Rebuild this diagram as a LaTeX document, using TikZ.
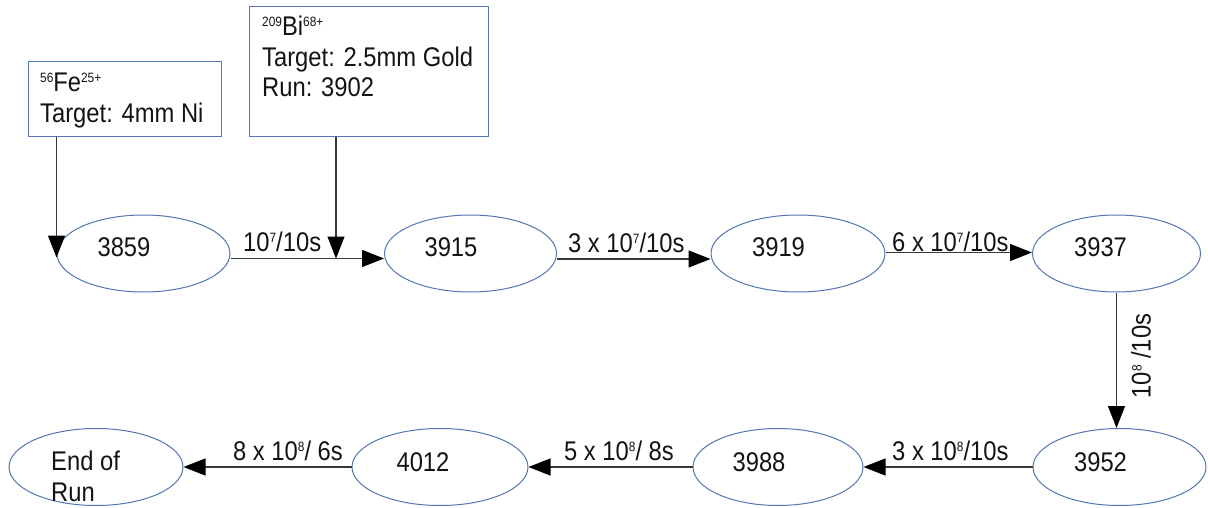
\documentclass[tikz,border=0pt]{standalone}
\usepackage{fontspec}
\setmainfont{Liberation Sans}[FakeStretch=0.88]
\usetikzlibrary{shapes.geometric,arrows.meta,calc}
\definecolor{eblue}{RGB}{84,118,178}
\definecolor{txt}{RGB}{20,20,20}
\newcommand\upx[1]{\raisebox{9pt}{\fontsize{13.5}{13.5}\selectfont #1}}
\begin{document}
\begin{tikzpicture}[x=1pt,y=-1pt,
  every node/.style={font=\fontsize{27}{30}\selectfont, text=txt, inner sep=0pt},
  ell/.style={draw=eblue, line width=1pt, ellipse, minimum width=#1, minimum height=77pt},
  box/.style={draw=eblue, line width=1pt, rectangle, anchor=north west},
  conn/.style={draw=black!78, line width=1.3pt, -{Triangle[length=22pt,width=17pt,color=black]}},
  lab/.style={anchor=base west}]
\fill[white] (0,0) rectangle (1208,508);
\useasboundingbox (0,0) rectangle (1208,508);

% source boxes
\node[box, minimum width=193pt, minimum height=75pt] (fe) at (28,61) {};
\node[box, minimum width=239pt, minimum height=130pt] (bi) at (249,6) {};
\node[lab] (fet1) at (40,92) {\upx{56}Fe\upx{25+}};
\node[lab] (fet2) at (40,123) {Target: 4mm Ni};
\node[lab] (bit1) at (262,36) {\upx{209}Bi\upx{68+}};
\node[lab] (bit2) at (262,67) {Target: 2.5mm Gold};
\node[lab] (bit3) at (262,97) {Run: 3902};

% run ellipses
\node[ell=173pt] (n3859) at (143.5,253.5) {};
\node[ell=172pt] (n3915) at (470.5,253.5) {};
\node[ell=174pt] (n3919) at (798,253.5) {};
\node[ell=168pt] (n3937) at (1116.5,253.5) {};
\node[ell=173pt] (n3952) at (1119.5,467) {};
\node[ell=170pt] (n3988) at (778,467) {};
\node[ell=176pt] (n4012) at (440,467) {};
\node[ell=174pt] (nend) at (96,467) {};

\node (t3859) at ($(n3859)+(-19.5,-6.5)$) {3859};
\node (t3915) at ($(n3915)+(-19.5,-6.5)$) {3915};
\node (t3919) at ($(n3919)+(-19.5,-6.5)$) {3919};
\node (t3937) at ($(n3937)+(-16,-6.5)$) {3937};
\node (t3952) at ($(n3952)+(-19,-5)$) {3952};
\node (t3988) at ($(n3988)+(-19,-5)$) {3988};
\node (t4012) at ($(n4012)+(-17,-5)$) {4012};
\node[align=left, anchor=north west, font=\fontsize{27}{31}\selectfont] (tend) at (51,451) {End of\\Run};

% connectors
\coordinate (bij) at (336,258.5);
\draw[conn] (fe.south -| n3859.west) -- ([yshift=-4pt]n3859.west);
\draw[conn] (bi.south -| bij) -- (bij);
\draw[conn] ([yshift=-5pt]n3859.east) -- ([yshift=-5pt]n3915.west);
\draw[conn] ([yshift=-5.5pt]n3915.east) -- ([yshift=-5.5pt]n3919.west);
\draw[conn] ([yshift=1pt]n3919.east) -- ([yshift=1pt]n3937.west);
\draw[conn] (n3937.south) -- (n3937.south |- n3952.north);
\draw[conn] (n3952.west) -- (n3988.east);
\draw[conn] (n3988.west) -- (n4012.east);
\draw[conn] (n4012.west) -- (nend.east);

% labels
\node[lab] (l1) at (243,251) {10\upx{7}/10s};
\node[lab] (l2) at (568,252) {3 x 10\upx{7}/10s};
\node[lab] (l3) at (892,251) {6 x 10\upx{7}/10s};
\node[rotate=90] (l4) at (1141,356) {10\upx{8} /10s};
\node[lab] (l5) at (892,460) {3 x 10\upx{8}/10s};
\node[lab] (l6) at (564,460) {5 x 10\upx{8}/ 8s};
\node[lab] (l7) at (233,460) {8 x 10\upx{8}/ 6s};
\end{tikzpicture}
\end{document}
